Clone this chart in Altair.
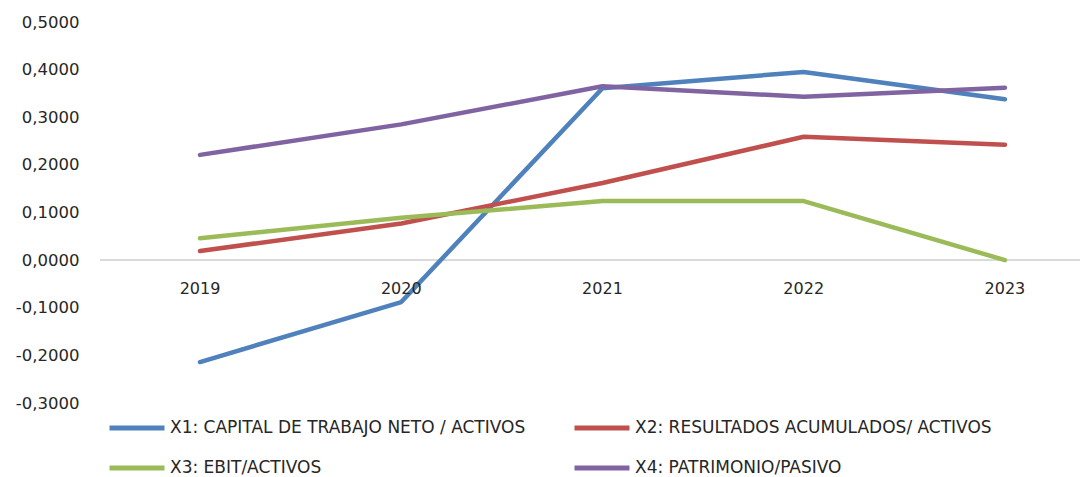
import altair as alt
import pandas as pd

years = [2019, 2020, 2021, 2022, 2023]
series_names = [
    "X1: CAPITAL DE TRABAJO NETO / ACTIVOS",
    "X2: RESULTADOS ACUMULADOS/ ACTIVOS",
    "X3: EBIT/ACTIVOS",
    "X4: PATRIMONIO/PASIVO",
]
x1 = [-0.214, -0.088, 0.361, 0.395, 0.338]
x2 = [0.019, 0.077, 0.162, 0.259, 0.242]
x3 = [0.046, 0.089, 0.124, 0.124, 0.000]
x4 = [0.221, 0.285, 0.365, 0.343, 0.362]
colors = ["#4f81bd", "#c0504d", "#9bbb59", "#8064a2"]
y_ticks = [-0.3, -0.2, -0.1, 0.0, 0.1, 0.2, 0.3, 0.4, 0.5]

rows = []
for name, vals in zip(series_names, [x1, x2, x3, x4]):
    for y, v in zip(years, vals):
        rows.append({"year": y, "value": v, "serie": name})
df = pd.DataFrame(rows)
years_df = pd.DataFrame({"year": years, "zero": [0] * len(years)})

# legend is filled column by column: order so that rows read X1 X2 / X3 X4
legend_order = [series_names[0], series_names[2], series_names[1], series_names[3]]
legend_colors = [colors[0], colors[2], colors[1], colors[3]]

FONT = "DejaVu Sans"
TXT = "#262626"
W, H = 980, 381

x_scale = alt.Scale(domain=[2018.503, 2023.373], nice=False, zero=False)
y_scale = alt.Scale(domain=[-0.3, 0.5], nice=False)

zero_line = alt.Chart(years_df).mark_rule(color="#d9d9d9", strokeWidth=1.5).encode(
    y=alt.Y("zero:Q", scale=y_scale, axis=None),
    x=alt.value(0),
    x2=alt.value(W),
)

lines = alt.Chart(df).mark_line(strokeWidth=4.5, strokeCap="round", strokeJoin="round").encode(
    x=alt.X("year:Q", scale=x_scale, axis=None),
    y=alt.Y(
        "value:Q",
        scale=y_scale,
        title=None,
        axis=alt.Axis(
            values=y_ticks,
            labelExpr="(datum.value < -0.00001 ? '-' : '') + replace(format(abs(datum.value), '.4f'), '.', ',')",
            domain=False,
            ticks=False,
            grid=False,
            labelPadding=21,
            labelFontSize=16.5,
            labelFont=FONT,
            labelColor=TXT,
        ),
    ),
    color=alt.Color(
        "serie:N",
        scale=alt.Scale(domain=legend_order, range=legend_colors),
        legend=alt.Legend(
            title=None,
            orient="none",
            legendX=7,
            legendY=376,
            columns=2,
            columnPadding=38,
            rowPadding=-14,
            symbolType="stroke",
            symbolSize=3025,
            symbolStrokeWidth=5,
            labelFont=FONT,
            labelFontSize=17,
            labelColor=TXT,
            labelLimit=0,
            labelOffset=3,
            padding=0,
        ),
    ),
)

year_labels = alt.Chart(years_df).mark_text(
    dy=29, fontSize=16, font=FONT, color=TXT
).encode(
    x=alt.X("year:Q", scale=x_scale, axis=None),
    y=alt.Y("zero:Q", scale=y_scale, axis=None),
    text=alt.Text("year:N"),
)

chart = (
    alt.layer(zero_line, lines, year_labels)
    .resolve_axis(y="independent")
    .properties(
        width=W,
        height=H,
        background="white",
        autosize=alt.AutoSizeParams(type="none"),
        padding={"left": 92, "top": 14, "right": 0, "bottom": 77},
    )
    .configure_view(strokeWidth=0, stroke=None)
)

chart.save("out.html", embed_options={"renderer": "svg", "actions": False})
